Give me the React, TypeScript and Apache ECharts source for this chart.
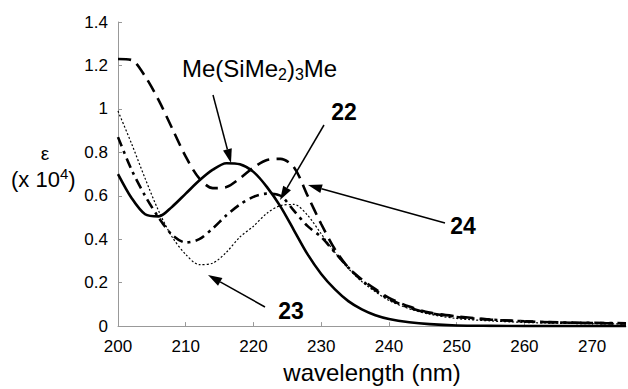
import { useEffect, useRef } from "react";
import * as echarts from "echarts";

const wavelengths = [200, 202, 204, 206, 208, 210, 212, 214, 216, 218, 220, 222, 224, 226, 228, 230, 232, 234, 236, 238, 240, 243, 246, 250, 255, 260, 265, 270, 275];
const me3Values = [0.70, 0.59, 0.515, 0.505, 0.55, 0.61, 0.67, 0.72, 0.75, 0.745, 0.71, 0.64, 0.55, 0.44, 0.33, 0.24, 0.17, 0.115, 0.077, 0.05, 0.033, 0.018, 0.009, 0.003, 0.001, 0, 0, 0, 0];
const c24Values = [1.23, 1.225, 1.15, 1.04, 0.91, 0.78, 0.68, 0.635, 0.64, 0.68, 0.73, 0.765, 0.77, 0.73, 0.60, 0.47, 0.355, 0.27, 0.215, 0.17, 0.13, 0.09, 0.062, 0.045, 0.03, 0.022, 0.017, 0.014, 0.012];
const c22Values = [0.87, 0.72, 0.60, 0.50, 0.42, 0.385, 0.40, 0.45, 0.51, 0.56, 0.595, 0.61, 0.60, 0.53, 0.46, 0.41, 0.34, 0.27, 0.21, 0.165, 0.125, 0.085, 0.06, 0.042, 0.03, 0.022, 0.017, 0.015, 0.013];
const c23Values = [0.99, 0.84, 0.68, 0.53, 0.41, 0.33, 0.283, 0.29, 0.34, 0.41, 0.46, 0.52, 0.555, 0.56, 0.51, 0.425, 0.34, 0.265, 0.205, 0.158, 0.118, 0.08, 0.055, 0.035, 0.024, 0.017, 0.013, 0.011, 0.01];

const FONT = "Liberation Sans, Arial, Helvetica, sans-serif";

function arrow(x1: number, y1: number, x2: number, y2: number) {
  const a = Math.atan2(y2 - y1, x2 - x1);
  const L = 14, W = 4.5;
  const c = Math.cos(a), s = Math.sin(a);
  const bx = x2 - L * c, by = y2 - L * s;
  const px = -s * W, py = c * W;
  return [
    { type: "line", shape: { x1, y1, x2: bx, y2: by }, style: { stroke: "#000", lineWidth: 1.5 } },
    { type: "polygon", shape: { points: [[x2, y2], [bx + px, by + py], [bx - px, by - py]] }, style: { fill: "#000" } },
  ];
}

function pairs(vals: number[]) {
  return wavelengths.map((w, i) => [w, vals[i]]);
}

export default function App() {
  const ref = useRef<HTMLDivElement>(null);
  useEffect(() => {
    if (!ref.current) return;
    const chart = echarts.init(ref.current, undefined, { renderer: "svg" });
    const lineBase = { type: "line", showSymbol: false, smooth: 0.3, silent: true };
    chart.setOption({
      animation: false,
      backgroundColor: "#fff",
      grid: { left: 118, top: 22, right: 2, bottom: 54 },
      xAxis: {
        type: "value",
        min: 200,
        max: 275,
        interval: 10,
        name: "wavelength (nm)",
        nameLocation: "middle",
        nameGap: 31,
        nameTextStyle: { fontFamily: FONT, fontSize: 24, color: "#000" },
        axisLine: { show: true, lineStyle: { color: "#999", width: 1 } },
        axisTick: { show: true, inside: true, length: 4, lineStyle: { color: "#999" } },
        axisLabel: { fontFamily: FONT, fontSize: 17, color: "#000", margin: 12, showMaxLabel: false },
        splitLine: { show: false },
      },
      yAxis: {
        type: "value",
        min: 0,
        max: 1.4,
        interval: 0.2,
        axisLine: { show: true, lineStyle: { color: "#999", width: 1 } },
        axisTick: { show: true, inside: true, length: 4, lineStyle: { color: "#999" } },
        axisLabel: { fontFamily: FONT, fontSize: 17, color: "#000", margin: 10 },
        splitLine: { show: false },
      },
      series: [
        { ...lineBase, name: "Me(SiMe2)3Me", data: pairs(me3Values), lineStyle: { color: "#000", width: 2.6 } },
        { ...lineBase, name: "24", data: pairs(c24Values), lineStyle: { color: "#000", width: 2.6, type: [13, 7] } },
        { ...lineBase, name: "22", data: pairs(c22Values), lineStyle: { color: "#000", width: 2.6, type: [10, 5, 3, 5] } },
        { ...lineBase, name: "23", data: pairs(c23Values), lineStyle: { color: "#000", width: 1.2, type: [2, 2] } },
      ],
      graphic: [
        {
          type: "text",
          x: 182,
          y: 68,
          style: {
            text: "Me(SiMe{sub|2}){sub|3}Me",
            fontFamily: FONT,
            fontSize: 24,
            fill: "#000",
            verticalAlign: "middle",
            rich: { sub: { fontFamily: FONT, fontSize: 16, fill: "#000", padding: [12, 0, 0, 0] } },
          },
        },
        { type: "text", x: 344, y: 112, style: { text: "22", fontFamily: FONT, fontSize: 23, fontWeight: "bold", fill: "#000", align: "center", verticalAlign: "middle" } },
        { type: "text", x: 463, y: 226, style: { text: "24", fontFamily: FONT, fontSize: 23, fontWeight: "bold", fill: "#000", align: "center", verticalAlign: "middle" } },
        { type: "text", x: 291, y: 311, style: { text: "23", fontFamily: FONT, fontSize: 23, fontWeight: "bold", fill: "#000", align: "center", verticalAlign: "middle" } },
        { type: "text", x: 45, y: 153, style: { text: "ε", fontFamily: FONT, fontSize: 19, fill: "#000", align: "center", verticalAlign: "middle" } },
        {
          type: "text",
          x: 11,
          y: 179,
          style: {
            text: "(x 10{sup|4})",
            fontFamily: FONT,
            fontSize: 22,
            fill: "#000",
            verticalAlign: "middle",
            rich: { sup: { fontFamily: FONT, fontSize: 15, fill: "#000", padding: [0, 0, 12, 0] } },
          },
        },
        ...arrow(213, 95, 231, 163),
        ...arrow(324, 125, 280, 200),
        ...arrow(445, 223, 308, 185),
        ...arrow(265, 307, 208, 275),
      ],
    });
    return () => chart.dispose();
  }, []);
  return <div ref={ref} style={{ width: 628, height: 389, position: "absolute", left: 0, top: 0 }} />;
}
